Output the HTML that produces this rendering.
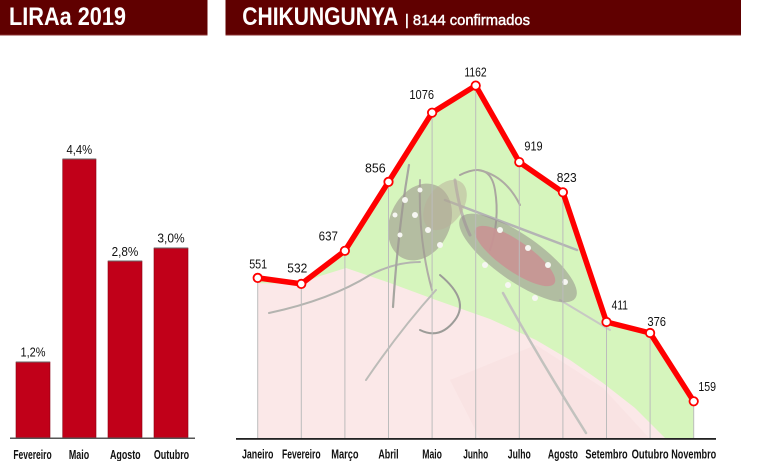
<!DOCTYPE html>
<html><head><meta charset="utf-8"><style>
html,body{margin:0;padding:0;background:#fff;}
svg{display:block;}
text{font-family:"Liberation Sans",sans-serif;}
</style></head><body>
<svg width="759" height="461" viewBox="0 0 759 461" xmlns="http://www.w3.org/2000/svg">
<defs>
<clipPath id="area"><polygon points="257.7,277.9 301.3,283.9 344.9,250.8 388.5,181.9 432.1,112.7 475.7,85.6 519.3,162.1 562.9,192.3 606.5,322 650.1,333 693.7,401.3 693.7,439 257.7,439"/></clipPath>
</defs>
<!-- headers -->
<rect x="0" y="0" width="207.5" height="35.5" fill="#600000"/>
<rect x="0" y="34.5" width="207.5" height="1" fill="#8a3030"/>
<rect x="225.5" y="0" width="515.5" height="35.5" fill="#600000"/>
<rect x="225.5" y="34.5" width="515.5" height="1" fill="#8a3030"/>
<text x="9" y="25" font-size="25" font-weight="bold" fill="#fff" textLength="117" lengthAdjust="spacingAndGlyphs">LIRAa 2019</text>
<text x="242.3" y="25" font-size="25" font-weight="bold" fill="#fff" textLength="156" lengthAdjust="spacingAndGlyphs">CHIKUNGUNYA</text>
<text x="405" y="25" font-size="15" fill="#fff" stroke="#fff" stroke-width="0.45" textLength="125" lengthAdjust="spacingAndGlyphs">| 8144 confirmados</text>

<!-- left bar chart -->
<g fill="#c10019" stroke="#8a0012" stroke-width="0.6">
<rect x="16" y="362" width="34" height="76"/>
<rect x="62.7" y="159" width="33.3" height="279"/>
<rect x="108" y="261" width="34" height="177"/>
<rect x="154" y="248" width="34" height="190"/>
</g>
<g fill="#666"><rect x="16" y="361.5" width="34" height="1"/><rect x="62.7" y="158.5" width="33.3" height="1"/><rect x="108" y="260.5" width="34" height="1"/><rect x="154" y="247.5" width="34" height="1"/></g>
<rect x="10" y="437.5" width="185" height="1.5" fill="#555"/>
<g font-size="13" fill="#111" text-anchor="middle">
<text x="33" y="356.7" textLength="25" lengthAdjust="spacingAndGlyphs">1,2%</text>
<text x="79.3" y="154" textLength="25.7" lengthAdjust="spacingAndGlyphs">4,4%</text>
<text x="125" y="256" textLength="26.7" lengthAdjust="spacingAndGlyphs">2,8%</text>
<text x="171" y="242.7" textLength="27.3" lengthAdjust="spacingAndGlyphs">3,0%</text>
</g>
<g font-size="12.5" font-weight="bold" fill="#111" text-anchor="middle">
<text x="32.5" y="459" textLength="38.3" lengthAdjust="spacingAndGlyphs">Fevereiro</text>
<text x="79" y="459" textLength="20.3" lengthAdjust="spacingAndGlyphs">Maio</text>
<text x="125.3" y="459" textLength="30.7" lengthAdjust="spacingAndGlyphs">Agosto</text>
<text x="171.5" y="459" textLength="35.3" lengthAdjust="spacingAndGlyphs">Outubro</text>
</g>

<!-- background image under curve -->
<g clip-path="url(#area)">
<rect x="250" y="80" width="450" height="360" fill="#d6f5bd"/>
<polygon points="250,439 250,283 300,284 320,276 346,268 390,283 436,300 490,319 536,340 570,360 603,383 635,408 666,439" fill="#fbe8e8"/>
<polygon points="450,380 536,345 603,388 650,439 480,439" fill="#f8e0e0" opacity="0.6"/>
<!-- legs -->
<g fill="none" stroke-linecap="round">
<path d="M269,313 Q330,300 370,275 Q395,262 420,262" stroke="#b4b4b0" stroke-width="2"/>
<path d="M366,380 Q400,330 436,290" stroke="#bcbcb8" stroke-width="2"/>
<path d="M503,293 Q540,360 586,433" stroke="#c2c2be" stroke-width="2.5"/>
<path d="M409,165 Q398,230 393,307" stroke="#a6a6a0" stroke-width="2.2"/>
<path d="M420,180 Q418,240 432,290" stroke="#b0aca6" stroke-width="2"/>
<path d="M440,275 Q470,300 455,320 Q440,340 420,330" stroke="#9c9c98" stroke-width="2"/>
<path d="M455,180 Q460,215 470,235" stroke="#bcb8b2" stroke-width="3"/>
<path d="M460,175 Q490,160 495,190 Q500,220 490,250" stroke="#aaa6a0" stroke-width="2"/>
<path d="M478,170 Q505,175 520,205" stroke="#aeaaa4" stroke-width="2"/>
<path d="M445,200 L577,250" stroke="#b4b4b4" stroke-width="2.5"/>
<path d="M560,300 L610,330" stroke="#c8c8c4" stroke-width="2"/>
</g>
<!-- thorax -->
<ellipse cx="420" cy="222" rx="30" ry="40" transform="rotate(25 420 222)" fill="#9c978e" opacity="0.6"/>
<ellipse cx="445" cy="205" rx="18" ry="28" transform="rotate(35 445 205)" fill="#b8ad9a" opacity="0.5"/>
<!-- abdomen -->
<ellipse cx="518" cy="258" rx="70" ry="23" transform="rotate(35 518 258)" fill="#948e8a" opacity="0.55"/>
<ellipse cx="515" cy="256" rx="48" ry="15" transform="rotate(35 515 256)" fill="#c99494" opacity="0.9"/>
<g fill="#f6f6f2">
<circle cx="405" cy="200" r="3"/><circle cx="415" cy="215" r="3"/><circle cx="428" cy="230" r="3"/><circle cx="400" cy="235" r="2.5"/>
<circle cx="440" cy="245" r="3"/><circle cx="420" cy="190" r="2.5"/><circle cx="395" cy="215" r="2.5"/>
<circle cx="500" cy="230" r="3"/><circle cx="528" cy="248" r="3"/><circle cx="548" cy="265" r="3"/><circle cx="565" cy="282" r="3"/>
<circle cx="485" cy="265" r="3"/><circle cx="508" cy="285" r="3"/><circle cx="535" cy="298" r="3"/>
</g>
</g>
<!-- gridlines -->
<g stroke="#bcbcbc" stroke-width="1">
<line x1="257.7" y1="282" x2="257.7" y2="439"/>
<line x1="301.3" y1="288" x2="301.3" y2="439"/>
<line x1="344.9" y1="255" x2="344.9" y2="439"/>
<line x1="388.5" y1="186" x2="388.5" y2="439"/>
<line x1="432.1" y1="117" x2="432.1" y2="439"/>
<line x1="475.7" y1="90" x2="475.7" y2="439"/>
<line x1="519.3" y1="166" x2="519.3" y2="439"/>
<line x1="562.9" y1="196" x2="562.9" y2="439"/>
<line x1="606.5" y1="326" x2="606.5" y2="439"/>
<line x1="650.1" y1="337" x2="650.1" y2="439"/>
<line x1="693.7" y1="405" x2="693.7" y2="439"/>
</g>
<rect x="236" y="438" width="480" height="1.8" fill="#222"/>
<!-- line -->
<polyline points="257.7,277.9 301.3,283.9 344.9,250.8 388.5,181.9 432.1,112.7 475.7,85.6 519.3,162.1 562.9,192.3 606.5,322 650.1,333 693.7,401.3" fill="none" stroke="#ff0000" stroke-width="5.5" stroke-linejoin="round" stroke-linecap="round"/>
<g fill="#fff" stroke="#ff0000" stroke-width="1.8">
<circle cx="257.7" cy="277.9" r="4.2"/><circle cx="301.3" cy="283.9" r="4.2"/><circle cx="344.9" cy="250.8" r="4.2"/>
<circle cx="388.5" cy="181.9" r="4.2"/><circle cx="432.1" cy="112.7" r="4.2"/><circle cx="475.7" cy="85.6" r="4.2"/>
<circle cx="519.3" cy="162.1" r="4.2"/><circle cx="562.9" cy="192.3" r="4.2"/><circle cx="606.5" cy="322" r="4.2"/>
<circle cx="650.1" cy="333" r="4.2"/><circle cx="693.7" cy="401.3" r="4.2"/>
</g>
<!-- value labels -->
<g font-size="13" fill="#111" text-anchor="middle">
<text x="258.2" y="268.3" textLength="18" lengthAdjust="spacingAndGlyphs">551</text>
<text x="297.3" y="272.3" textLength="20" lengthAdjust="spacingAndGlyphs">532</text>
<text x="328.3" y="240.7" textLength="19.3" lengthAdjust="spacingAndGlyphs">637</text>
<text x="375.3" y="172.3" textLength="20.7" lengthAdjust="spacingAndGlyphs">856</text>
<text x="421.7" y="99" textLength="24.7" lengthAdjust="spacingAndGlyphs">1076</text>
<text x="475.5" y="76.7" textLength="22.3" lengthAdjust="spacingAndGlyphs">1162</text>
<text x="533.5" y="150.7" textLength="18.3" lengthAdjust="spacingAndGlyphs">919</text>
<text x="566.7" y="182" textLength="20" lengthAdjust="spacingAndGlyphs">823</text>
<text x="619.8" y="309.3" textLength="16.3" lengthAdjust="spacingAndGlyphs">411</text>
<text x="656.7" y="326" textLength="18.7" lengthAdjust="spacingAndGlyphs">376</text>
<text x="707.2" y="391" textLength="17.7" lengthAdjust="spacingAndGlyphs">159</text>
</g>
<!-- month labels -->
<g font-size="12.5" font-weight="bold" fill="#111" text-anchor="middle">
<text x="257.7" y="458.5" textLength="31.5" lengthAdjust="spacingAndGlyphs">Janeiro</text>
<text x="301.3" y="458.5" textLength="38.7" lengthAdjust="spacingAndGlyphs">Fevereiro</text>
<text x="344.9" y="458.5" textLength="27.3" lengthAdjust="spacingAndGlyphs">Março</text>
<text x="388.5" y="458.5" textLength="20.3" lengthAdjust="spacingAndGlyphs">Abril</text>
<text x="432.1" y="458.5" textLength="19.7" lengthAdjust="spacingAndGlyphs">Maio</text>
<text x="475.7" y="458.5" textLength="25" lengthAdjust="spacingAndGlyphs">Junho</text>
<text x="519.3" y="458.5" textLength="23" lengthAdjust="spacingAndGlyphs">Julho</text>
<text x="562.9" y="458.5" textLength="30" lengthAdjust="spacingAndGlyphs">Agosto</text>
<text x="606.5" y="458.5" textLength="42.3" lengthAdjust="spacingAndGlyphs">Setembro</text>
<text x="650.1" y="458.5" textLength="37" lengthAdjust="spacingAndGlyphs">Outubro</text>
<text x="693.7" y="458.5" textLength="45" lengthAdjust="spacingAndGlyphs">Novembro</text>
</g>
</svg>
</body></html>
